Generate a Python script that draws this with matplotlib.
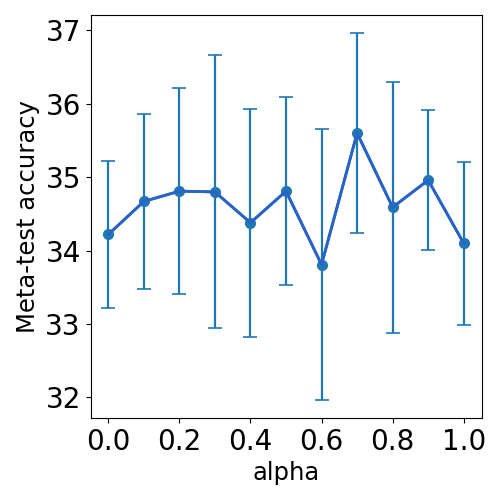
import matplotlib
matplotlib.use("Agg")
import matplotlib.pyplot as plt
import numpy as np

alpha = [0.0, 0.1, 0.2, 0.3, 0.4, 0.5, 0.6, 0.7, 0.8, 0.9, 1.0]
accuracy = [34.22, 34.67, 34.81, 34.80, 34.38, 34.81, 33.81, 35.60, 34.59, 34.96, 34.10]
error = [1.00, 1.19, 1.40, 1.86, 1.55, 1.28, 1.84, 1.36, 1.71, 0.95, 1.11]

fig = plt.figure(figsize=(5, 5), dpi=100)
ax = fig.add_axes([0.181, 0.164, 0.782, 0.806])
ax.errorbar(alpha, accuracy, yerr=error, fmt='-o', color='C0', capsize=5,
            linewidth=2, elinewidth=1.6, capthick=1.2, markersize=7)
ax.plot(alpha, accuracy, color='#2a62c8', linewidth=2, zorder=3)
ax.set_xlabel('alpha', fontsize=17.5)
ax.set_ylabel('Meta-test accuracy', fontsize=17.5)
ax.tick_params(axis='both', labelsize=20)
ax.set_xticks([0.0, 0.2, 0.4, 0.6, 0.8, 1.0])
fig.savefig('out.png', dpi=100)
